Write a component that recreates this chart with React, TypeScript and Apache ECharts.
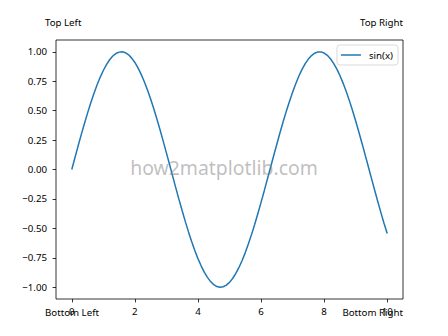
import React, { useEffect, useRef } from "react";
import * as echarts from "echarts";

const xValues = [
  0.0, 0.1, 0.2, 0.3, 0.4, 0.5, 0.6, 0.7, 0.8, 0.9, 1.0, 1.1, 1.2, 1.3, 1.4, 1.5, 1.6, 1.7, 1.8, 1.9,
  2.0, 2.1, 2.2, 2.3, 2.4, 2.5, 2.6, 2.7, 2.8, 2.9, 3.0, 3.1, 3.2, 3.3, 3.4, 3.5, 3.6, 3.7, 3.8, 3.9,
  4.0, 4.1, 4.2, 4.3, 4.4, 4.5, 4.6, 4.7, 4.8, 4.9, 5.0, 5.1, 5.2, 5.3, 5.4, 5.5, 5.6, 5.7, 5.8, 5.9,
  6.0, 6.1, 6.2, 6.3, 6.4, 6.5, 6.6, 6.7, 6.8, 6.9, 7.0, 7.1, 7.2, 7.3, 7.4, 7.5, 7.6, 7.7, 7.8, 7.9,
  8.0, 8.1, 8.2, 8.3, 8.4, 8.5, 8.6, 8.7, 8.8, 8.9, 9.0, 9.1, 9.2, 9.3, 9.4, 9.5, 9.6, 9.7, 9.8, 9.9,
  10.0,
];
const sinValues = [
  0.0, 0.1, 0.199, 0.296, 0.389, 0.479, 0.565, 0.644, 0.717, 0.783,
  0.841, 0.891, 0.932, 0.964, 0.985, 0.997, 1.0, 0.992, 0.974, 0.946,
  0.909, 0.863, 0.808, 0.746, 0.675, 0.598, 0.516, 0.427, 0.335, 0.239,
  0.141, 0.042, -0.058, -0.158, -0.256, -0.351, -0.443, -0.53, -0.612, -0.688,
  -0.757, -0.818, -0.872, -0.916, -0.952, -0.978, -0.994, -1.0, -0.996, -0.982,
  -0.959, -0.926, -0.883, -0.832, -0.773, -0.706, -0.631, -0.551, -0.465, -0.374,
  -0.279, -0.182, -0.083, 0.017, 0.117, 0.215, 0.312, 0.405, 0.494, 0.578,
  0.657, 0.729, 0.794, 0.85, 0.899, 0.938, 0.968, 0.988, 0.999, 0.999,
  0.989, 0.97, 0.941, 0.902, 0.855, 0.798, 0.734, 0.663, 0.585, 0.501,
  0.412, 0.319, 0.223, 0.124, 0.025, -0.075, -0.174, -0.272, -0.366, -0.458,
  -0.544,
];
const xTicks = [0, 2, 4, 6, 8, 10];
const yTicks = [-1, -0.75, -0.5, -0.25, 0, 0.25, 0.5, 0.75, 1];
const seriesName = "sin(x)";
const cornerLabels = ["Top Left", "Top Right", "Bottom Left", "Bottom Right"];
const watermark = "how2matplotlib.com";

const FONT = "Noto Sans";
const FS = 9.7;

export default function App() {
  const ref = useRef<HTMLDivElement>(null);
  useEffect(() => {
    if (!ref.current) return;
    const chart = echarts.init(ref.current, undefined, { renderer: "svg" });
    const fmtY = (v: number) => (v < 0 ? "\u2212" + Math.abs(v).toFixed(2) : v.toFixed(2));
    chart.setOption({
      animation: false,
      backgroundColor: "#ffffff",
      textStyle: { fontFamily: FONT },
      grid: {
        left: 56,
        top: 40,
        width: 347,
        height: 259,
        show: true,
        borderColor: "#000",
        borderWidth: 0.8,
        backgroundColor: "transparent",
      },
      legend: {
        show: true,
        data: [{ name: seriesName, icon: "rect" }],
        right: 50,
        top: 45,
        orient: "vertical",
        padding: [5, 5, 5, 4],
        itemWidth: 20,
        itemHeight: 1.5,
        borderColor: "#d0d0d0",
        borderWidth: 0.8,
        borderRadius: 3,
        backgroundColor: "rgba(255,255,255,0.8)",
        textStyle: { fontFamily: FONT, fontSize: FS, color: "#000", padding: [0, 0, 0, 3] },
      },
      xAxis: {
        type: "value",
        min: -0.5,
        max: 10.5,
        splitLine: { show: false },
        axisLine: { show: false, onZero: false },
        axisTick: {
          show: true,
          customValues: xTicks,
          length: 3.4,
          inside: false,
          lineStyle: { color: "#000", width: 0.8 },
        },
        axisLabel: {
          show: true,
          customValues: xTicks,
          margin: 7,
          fontFamily: FONT,
          fontSize: FS,
          color: "#000",
          formatter: (v: number) => String(v),
        },
      },
      yAxis: {
        type: "value",
        min: -1.1,
        max: 1.1,
        splitLine: { show: false },
        axisLine: { show: false, onZero: false },
        axisTick: {
          show: true,
          customValues: yTicks,
          length: 3.4,
          inside: false,
          lineStyle: { color: "#000", width: 0.8 },
        },
        axisLabel: {
          show: true,
          customValues: yTicks,
          margin: 9,
          fontFamily: FONT,
          fontSize: FS,
          color: "#000",
          formatter: fmtY,
        },
      },
      series: [
        {
          name: seriesName,
          type: "line",
          data: xValues.map((x, i) => [x, sinValues[i]]),
          showSymbol: false,
          symbol: "none",
          lineStyle: { color: "#1f77b4", width: 1.5 },
          itemStyle: { color: "#1f77b4" },
        },
      ],
      graphic: [
        {
          type: "text",
          x: 45,
          y: 22,
          style: { text: cornerLabels[0], font: `${FS}px "${FONT}"`, fill: "#000", textAlign: "left", textVerticalAlign: "middle" },
        },
        {
          type: "text",
          x: 403,
          y: 22,
          style: { text: cornerLabels[1], font: `${FS}px "${FONT}"`, fill: "#000", textAlign: "right", textVerticalAlign: "middle" },
        },
        {
          type: "text",
          x: 45,
          y: 312,
          z: 10,
          style: { text: cornerLabels[2], font: `${FS}px "${FONT}"`, fill: "#000", textAlign: "left", textVerticalAlign: "middle" },
        },
        {
          type: "text",
          x: 403,
          y: 312,
          z: 10,
          style: { text: cornerLabels[3], font: `${FS}px "${FONT}"`, fill: "#000", textAlign: "right", textVerticalAlign: "middle" },
        },
        {
          type: "text",
          x: 224,
          y: 167,
          z: 10,
          style: {
            text: watermark,
            font: `19.4px "${FONT}"`,
            fill: "rgba(128,128,128,0.5)",
            textAlign: "center",
            textVerticalAlign: "middle",
          },
        },
      ],
    });
    return () => chart.dispose();
  }, []);
  return (
    <div
      ref={ref}
      style={{ position: "fixed", left: 0, top: 0, width: 448, height: 336 }}
    />
  );
}
